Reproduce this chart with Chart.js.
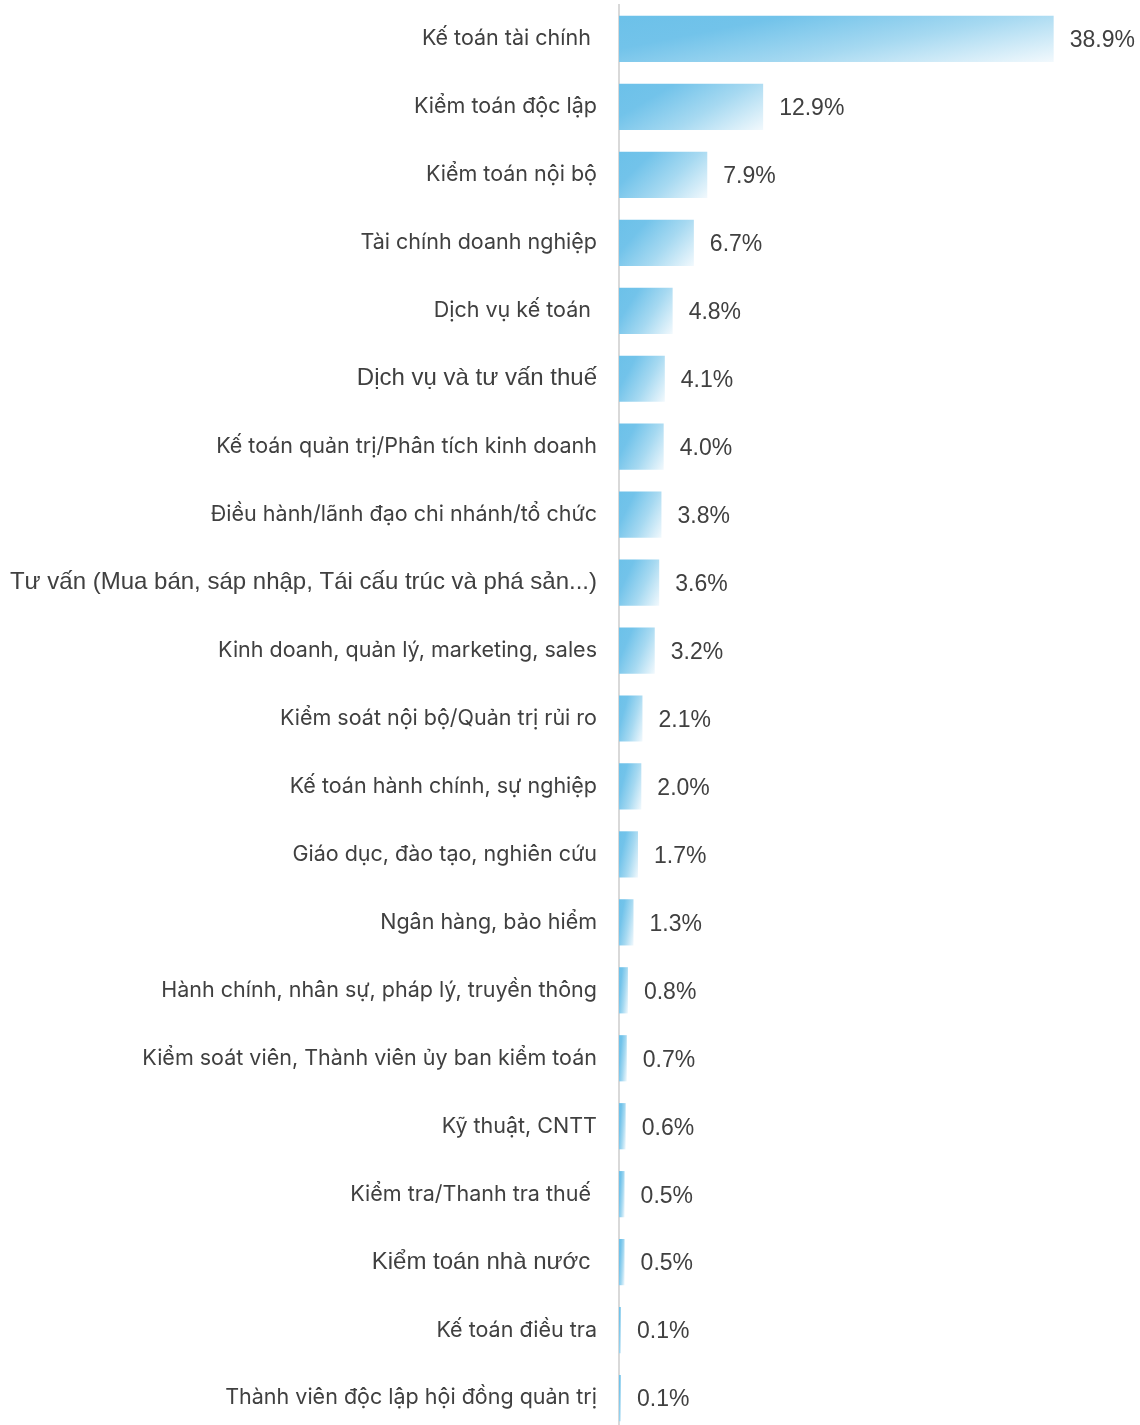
<!DOCTYPE html>
<html>
<head>
<meta charset="utf-8">
<script src="https://cdn.jsdelivr.net/npm/chart.js@4.4.1/dist/chart.umd.min.js"></script>
<style>
  html, body { margin: 0; padding: 0; background: #fff; overflow: hidden; }
  canvas { display: block; }
</style>
</head>
<body>
<canvas id="chart" width="1140" height="1432"></canvas>
<script>
const categories = [
    'Kế toán tài chính ',
    'Kiểm toán độc lập',
    'Kiểm toán nội bộ',
    'Tài chính doanh nghiệp',
    'Dịch vụ kế toán ',
    'Dịch vụ và tư vấn thuế',
    'Kế toán quản trị/Phân tích kinh doanh',
    'Điều hành/lãnh đạo chi nhánh/tổ chức',
    'Tư vấn (Mua bán, sáp nhập, Tái cấu trúc và phá sản...)',
    'Kinh doanh, quản lý, marketing, sales',
    'Kiểm soát nội bộ/Quản trị rủi ro',
    'Kế toán hành chính, sự nghiệp',
    'Giáo dục, đào tạo, nghiên cứu',
    'Ngân hàng, bảo hiểm',
    'Hành chính, nhân sự, pháp lý, truyền thông',
    'Kiểm soát viên, Thành viên ủy ban kiểm toán',
    'Kỹ thuật, CNTT',
    'Kiểm tra/Thanh tra thuế ',
    'Kiểm toán nhà nước ',
    'Kế toán điều tra',
    'Thành viên độc lập hội đồng quản trị'
];
const percents = [38.9, 12.9, 7.9, 6.7, 4.8, 4.1, 4.0, 3.8, 3.6, 3.2, 2.1, 2.0, 1.7, 1.3, 0.8, 0.7, 0.6, 0.5, 0.5, 0.1, 0.1];
// labels that were typed in a different (Arial-like, bigger) font in the source
const arialRows = [5, 8, 18];

function barFill(context) {
    const chart = context.chart;
    if (!chart.chartArea) return '#72c2e9';
    const x = chart.scales.x, y = chart.scales.y;
    const i = context.dataIndex;
    const x0 = x.getPixelForValue(0);
    const w = Math.max(x.getPixelForValue(percents[i]) - x0, 2);
    const h = y.height / categories.length * 0.68;
    const top = y.getPixelForValue(i) - h / 2;
    // colour runs along the bar and down it at the same time
    const a = 0.65, b = 0.35;
    const k = 1 / (a * a / (w * w) + b * b / (h * h));
    const g = chart.ctx.createLinearGradient(x0, top, x0 + k * a / w, top + k * b / h);
    g.addColorStop(0, '#6cc1e9');
    g.addColorStop(0.25, '#72c3ea');
    g.addColorStop(0.6, '#a6d9f1');
    g.addColorStop(1, '#f2f9fd');
    return g;
}

const valueLabels = {
    id: 'valueLabels',
    afterDatasetsDraw(chart) {
        const ctx = chart.ctx;
        ctx.save();
        ctx.font = '23px "Liberation Sans", Arial, sans-serif';
        ctx.fillStyle = '#404040';
        ctx.textBaseline = 'middle';
        chart.getDatasetMeta(0).data.forEach((bar, i) => {
            ctx.fillText(percents[i].toFixed(1) + '%', bar.x + 16, bar.y + 2);
        });
        ctx.restore();
    }
};

new Chart(document.getElementById('chart').getContext('2d'), {
    type: 'bar',
    data: {
        labels: categories,
        datasets: [{
            data: percents,
            backgroundColor: barFill,
            borderWidth: 0,
            barPercentage: 0.68,
            categoryPercentage: 1,
            minBarLength: 2
        }]
    },
    options: {
        indexAxis: 'y',
        responsive: false,
        animation: false,
        devicePixelRatio: 1,
        layout: { padding: { top: 5, right: 7, left: 0, bottom: 0 } },
        plugins: { legend: { display: false }, tooltip: { enabled: false } },
        scales: {
            x: { display: false, min: 0, max: 46 },
            y: {
                grid: { display: false, drawTicks: false },
                border: { display: true, color: '#d9d9d9', width: 2 },
                afterFit: s => { s.width = 619; s.paddingTop = 0; s.paddingBottom = 0; },
                ticks: {
                    padding: 22,
                    color: '#404040',
                    font: c => arialRows.includes(c.index)
                        ? { family: '"Liberation Sans", Arial, sans-serif', size: 24 }
                        : { family: 'Inter, sans-serif', size: 21.5 }
                }
            }
        }
    },
    plugins: [valueLabels]
});
</script>
</body>
</html>
